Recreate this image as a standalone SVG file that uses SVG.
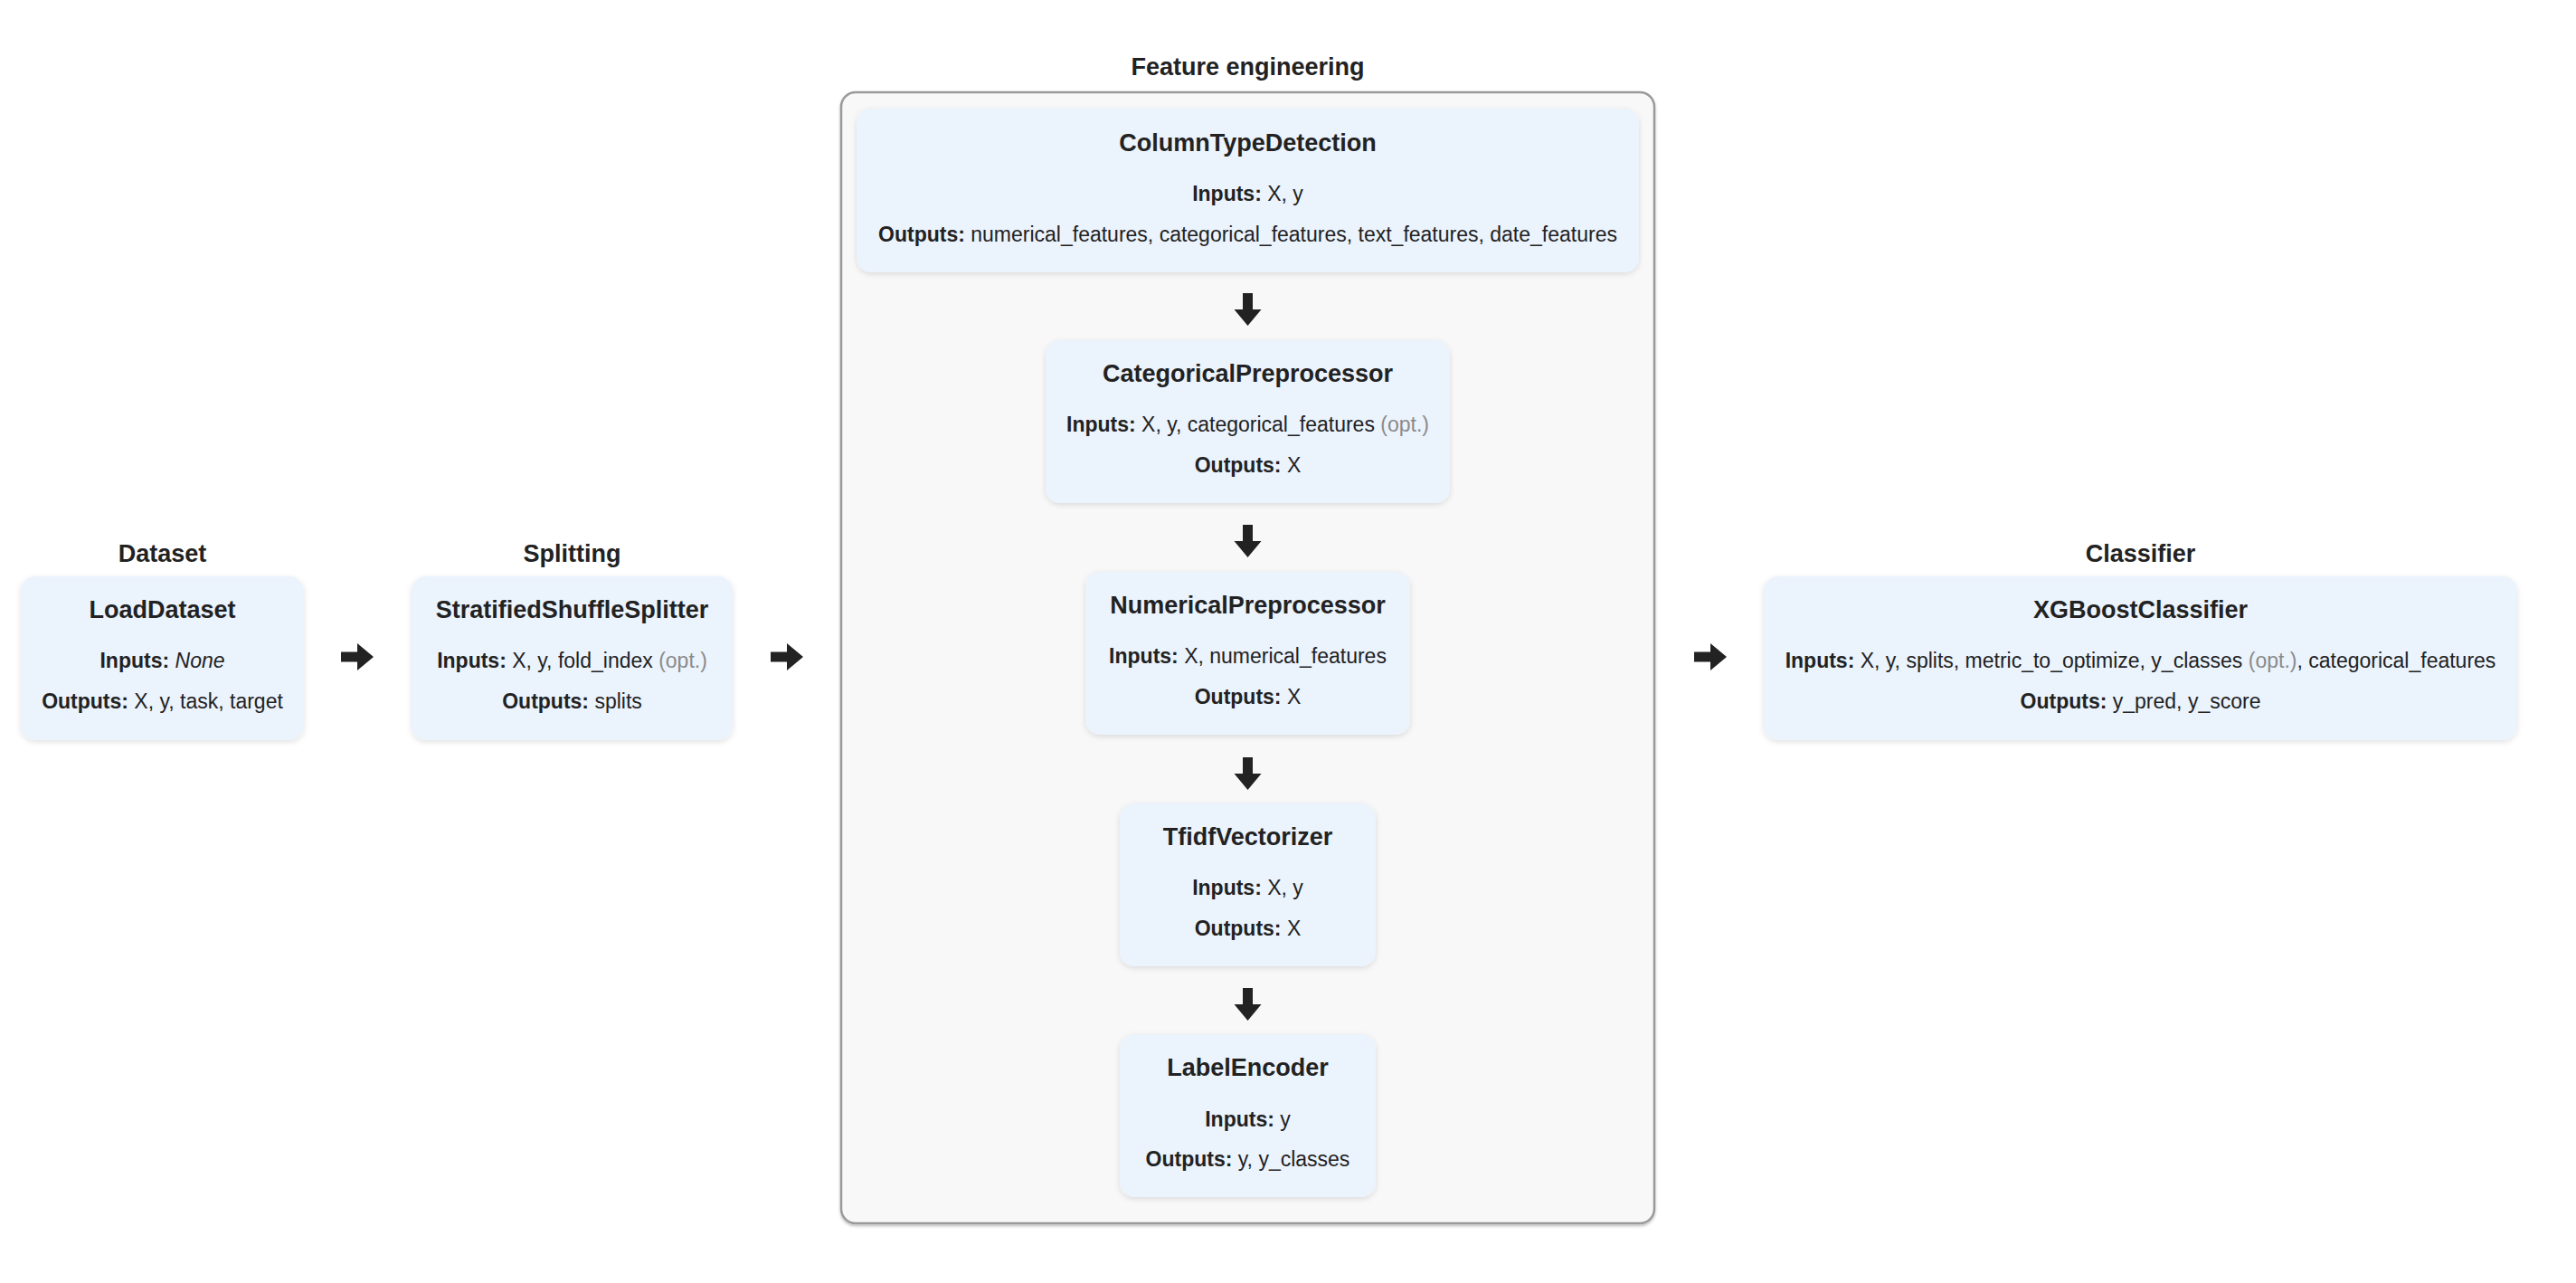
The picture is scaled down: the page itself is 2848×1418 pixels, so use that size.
<svg xmlns="http://www.w3.org/2000/svg" xmlns:xlink="http://www.w3.org/1999/xlink" width="2848" height="1418" viewBox="0 0 2848 1418">
  <defs>
    <style>
      text { font-family: "Liberation Sans", Arial, Helvetica, sans-serif; fill: #222222; }
      .title { font-size: 27px; font-weight: bold; text-anchor: middle; }
      .line { font-size: 23px; text-anchor: middle; }
      .b { font-weight: bold; }
      .opt { fill: #8a8a8a; }
      .node { fill: #ebf3fd; filter: url(#soft); }
      .group { fill: #f8f8f8; stroke: #9a9a9a; stroke-width: 2.5; filter: url(#groupShadow); }
      .arrow { fill: #222222; }
    </style>
    <filter id="soft" x="-10%" y="-10%" width="120%" height="130%">
      <feDropShadow dx="0" dy="2" stdDeviation="3" flood-color="#000000" flood-opacity="0.12"/>
    </filter>
    <filter id="groupShadow" x="-5%" y="-5%" width="110%" height="110%">
      <feDropShadow dx="0" dy="2" stdDeviation="1.5" flood-color="#000000" flood-opacity="0.25"/>
    </filter>
    <!-- block arrow pointing right, origin at left end / vertical centre -->
    <path id="arrowRight" d="M0,-5.5 H18 V-15 L36,0 L18,15 V5.5 H0 Z"/>
    <!-- block arrow pointing down, origin at top end / horizontal centre -->
    <path id="arrowDown" d="M-5.5,0 V18 H-15 L0,36 L15,18 H5.5 V0 Z"/>
  </defs>

  <rect x="0" y="0" width="2848" height="1418" fill="#ffffff"/>

  <!-- stage captions -->
  <g id="captions">
    <text class="title" x="179.5" y="621">Dataset</text>
    <text class="title" x="632.5" y="621">Splitting</text>
    <text class="title" x="1379.5" y="83">Feature engineering</text>
    <text class="title" x="2366.5" y="621">Classifier</text>
  </g>

  <!-- feature engineering container -->
  <g id="feature-engineering">
    <rect class="group" x="930" y="102" width="899" height="1250" rx="16"/>
  </g>

  <g id="load-dataset">
    <rect class="node" x="23" y="637" width="313" height="181" rx="16"/>
    <text class="title" x="179.5" y="683">LoadDataset</text>
    <text class="line" x="179.5" y="738"><tspan class="b">Inputs:</tspan> <tspan font-style="italic">None</tspan></text>
    <text class="line" x="179.5" y="783"><tspan class="b">Outputs:</tspan> X, y, task, target</text>
  </g>

  <g id="stratified-shuffle-splitter">
    <rect class="node" x="455" y="637" width="355" height="181" rx="16"/>
    <text class="title" x="632.5" y="683">StratifiedShuffleSplitter</text>
    <text class="line" x="632.5" y="738"><tspan class="b">Inputs:</tspan> X, y, fold_index <tspan class="opt">(opt.)</tspan></text>
    <text class="line" x="632.5" y="783"><tspan class="b">Outputs:</tspan> splits</text>
  </g>

  <g id="column-type-detection">
    <rect class="node" x="947" y="120" width="865" height="181" rx="16"/>
    <text class="title" x="1379.5" y="167">ColumnTypeDetection</text>
    <text class="line" x="1379.5" y="222"><tspan class="b">Inputs:</tspan> X, y</text>
    <text class="line" x="1379.5" y="267"><tspan class="b">Outputs:</tspan> numerical_features, categorical_features, text_features, date_features</text>
  </g>

  <g id="categorical-preprocessor">
    <rect class="node" x="1156" y="376" width="447" height="180" rx="16"/>
    <text class="title" x="1379.5" y="422">CategoricalPreprocessor</text>
    <text class="line" x="1379.5" y="477"><tspan class="b">Inputs:</tspan> X, y, categorical_features <tspan class="opt">(opt.)</tspan></text>
    <text class="line" x="1379.5" y="522"><tspan class="b">Outputs:</tspan> X</text>
  </g>

  <g id="numerical-preprocessor">
    <rect class="node" x="1200" y="632" width="359" height="180" rx="16"/>
    <text class="title" x="1379.5" y="678">NumericalPreprocessor</text>
    <text class="line" x="1379.5" y="733"><tspan class="b">Inputs:</tspan> X, numerical_features</text>
    <text class="line" x="1379.5" y="778"><tspan class="b">Outputs:</tspan> X</text>
  </g>

  <g id="tfidf-vectorizer">
    <rect class="node" x="1238" y="888" width="283" height="180" rx="16"/>
    <text class="title" x="1379.5" y="934">TfidfVectorizer</text>
    <text class="line" x="1379.5" y="989"><tspan class="b">Inputs:</tspan> X, y</text>
    <text class="line" x="1379.5" y="1034"><tspan class="b">Outputs:</tspan> X</text>
  </g>

  <g id="label-encoder">
    <rect class="node" x="1238" y="1143" width="283" height="180" rx="16"/>
    <text class="title" x="1379.5" y="1189">LabelEncoder</text>
    <text class="line" x="1379.5" y="1245"><tspan class="b">Inputs:</tspan> y</text>
    <text class="line" x="1379.5" y="1289"><tspan class="b">Outputs:</tspan> y, y_classes</text>
  </g>

  <g id="xgboost-classifier">
    <rect class="node" x="1950" y="637" width="833" height="181" rx="16"/>
    <text class="title" x="2366.5" y="683">XGBoostClassifier</text>
    <text class="line" x="2366.5" y="738"><tspan class="b">Inputs:</tspan> X, y, splits, metric_to_optimize, y_classes <tspan class="opt">(opt.)</tspan>, categorical_features</text>
    <text class="line" x="2366.5" y="783"><tspan class="b">Outputs:</tspan> y_pred, y_score</text>
  </g>

  <!-- connectors -->
  <g id="connectors" class="arrow">
    <use xlink:href="#arrowRight" x="377" y="726"/>
    <use xlink:href="#arrowRight" x="852" y="726"/>
    <use xlink:href="#arrowRight" x="1873" y="726"/>
    <use xlink:href="#arrowDown" x="1379.5" y="324"/>
    <use xlink:href="#arrowDown" x="1379.5" y="580"/>
    <use xlink:href="#arrowDown" x="1379.5" y="837"/>
    <use xlink:href="#arrowDown" x="1379.5" y="1092"/>
  </g>
</svg>
